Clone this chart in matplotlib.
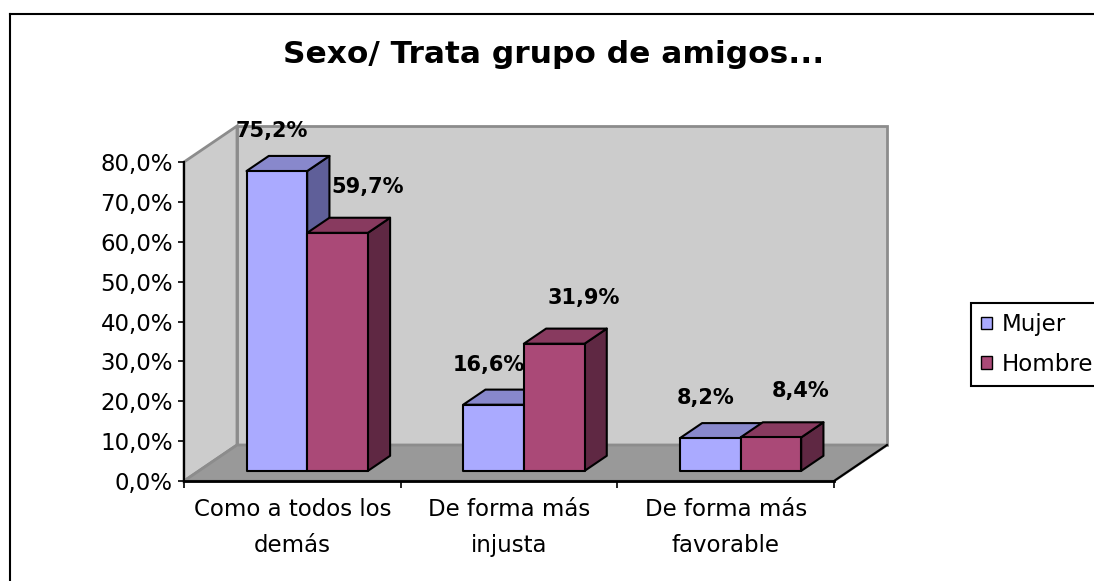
import matplotlib
matplotlib.use("Agg")
import matplotlib.pyplot as plt
from matplotlib.patches import Polygon, Rectangle, Patch
from matplotlib.lines import Line2D
from matplotlib.ticker import FuncFormatter

categories = ["Como a todos los\ndemás", "De forma más\ninjusta", "De forma más\nfavorable"]
series = ["Mujer", "Hombre"]
mujer = [75.2, 16.6, 8.2]
hombre = [59.7, 31.9, 8.4]

# front / top / side shades for each series
shades = {
    "Mujer": ("#AAAAFF", "#8888CC", "#5F5F99"),
    "Hombre": ("#AA4977", "#883A5F", "#5F2843"),
}
# label offsets (pixels) from the top-front centre of each bar
label_offset = {"Mujer": (-5, 40), "Hombre": (30, 46)}

W, H = 1094, 581
fig = plt.figure(figsize=(W / 100, H / 100), dpi=100)
ax = fig.add_axes([184 / W, 100 / H, 650 / W, 319 / H])
ax.set_xlim(0, 3)
ax.set_ylim(0, 80)
ax.patch.set_visible(False)

# depth of the 3d box in data units
DX = 53 / 650 * 3
DY = 36 / 319 * 80
D0, D1 = 0.28, 0.70   # bars sit between these depth fractions
BAR_W = 0.28

wall = dict(fc="#CCCCCC", ec="#8C8C8C", lw=2, clip_on=False, zorder=0.5)
ax.add_patch(Polygon([(DX, DY), (3 + DX, DY), (3 + DX, 80 + DY), (DX, 80 + DY)], **wall))
ax.add_patch(Polygon([(0, 0), (DX, DY), (DX, 80 + DY), (0, 80)], **wall))
ax.add_patch(Polygon([(0, 0), (3, 0), (3 + DX, DY), (DX, DY)],
                     fc="#999999", ec="#8C8C8C", lw=2, clip_on=False, zorder=0.6))
ax.plot([3, 3 + DX], [0, DY], color="black", lw=1.5, clip_on=False, zorder=0.7)


def draw_bar(x0, h, colors):
    front_c, top_c, side_c = colors
    b = D0 * DY
    xs = x0 + D0 * DX
    ddx = (D1 - D0) * DX
    ddy = (D1 - D0) * DY
    kw = dict(ec="black", lw=1.5, clip_on=False, zorder=3, joinstyle="round")
    ax.add_patch(Polygon([(xs + BAR_W, b), (xs + BAR_W, b + h),
                          (xs + BAR_W + ddx, b + h + ddy), (xs + BAR_W + ddx, b + ddy)],
                         fc=side_c, **kw))
    ax.add_patch(Polygon([(xs, b + h), (xs + BAR_W, b + h),
                          (xs + BAR_W + ddx, b + h + ddy), (xs + ddx, b + h + ddy)],
                         fc=top_c, **kw))
    ax.add_patch(Rectangle((xs, b), BAR_W, h, fc=front_c, **kw))
    return xs + BAR_W / 2, b + h


for i in range(len(categories)):
    for j, (name, vals) in enumerate(zip(series, [mujer, hombre])):
        x0 = i + 0.5 - BAR_W + j * BAR_W
        xc, top = draw_bar(x0, vals[i], shades[name])
        ax.annotate(f"{vals[i]:.1f}%".replace(".", ","), xy=(xc, top),
                    xytext=label_offset[name], textcoords="offset pixels",
                    ha="center", va="center", fontsize=15, fontweight="bold",
                    annotation_clip=False, zorder=5)

# axes
for s in ["top", "right"]:
    ax.spines[s].set_visible(False)
ax.spines["left"].set_linewidth(1.5)
ax.spines["bottom"].set_linewidth(2)
ax.spines["left"].set_zorder(2)
ax.spines["bottom"].set_zorder(2)

ax.set_yticks(range(0, 81, 10))
ax.yaxis.set_major_formatter(FuncFormatter(lambda v, p: f"{v:.1f}%".replace(".", ",")))
ax.tick_params(axis="y", length=4.5, width=1.2, pad=3.5, labelsize=16.5)

ax.set_xticks([0, 1, 2, 3])
ax.set_xticklabels([])
ax.set_xticks([0.5, 1.5, 2.5], minor=True)
ax.set_xticklabels(categories, minor=True, linespacing=1.75)
ax.tick_params(axis="x", which="major", length=5, width=1.2)
ax.tick_params(axis="x", which="minor", length=0, pad=12, labelsize=16.5)

fig.text(554 / W, 1 - 63 / H, "Sexo/ Trata grupo de amigos...", ha="center",
         va="baseline", fontsize=22.5, fontweight="bold")

handles = [Patch(fc=shades[n][0], ec="black", lw=1) for n in series]
leg = fig.legend(handles, series, loc="upper left", bbox_to_anchor=(971 / W, 1 - 303 / H),
                 frameon=True, fancybox=False, edgecolor="black", framealpha=1,
                 fontsize=16.5, handlelength=0.45, handleheight=0.45, handletextpad=0.45,
                 borderpad=0.45, labelspacing=0.72, borderaxespad=0)
leg.get_frame().set_linewidth(1.5)

# chart border
fig.add_artist(Line2D([10 / W, 10 / W], [0, 1 - 14 / H], transform=fig.transFigure,
                      color="black", lw=1.5))
fig.add_artist(Line2D([10 / W, 1], [1 - 14 / H, 1 - 14 / H], transform=fig.transFigure,
                      color="black", lw=1.5))

fig.savefig("out.png", dpi=100)
